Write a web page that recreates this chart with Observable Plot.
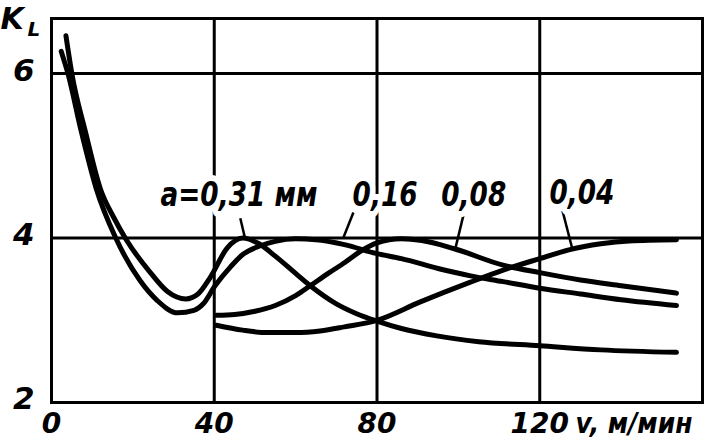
<!DOCTYPE html>
<html><head><meta charset="utf-8">
<script src="https://cdn.jsdelivr.net/npm/d3@7"></script>
<script src="https://cdn.jsdelivr.net/npm/@observablehq/plot@0.6"></script>
<style>body{margin:0;background:#fff}</style>
</head><body><div id="chart"></div>
<script>
// feed thickness a, mm
const series = ["0,31", "0,16", "0,08", "0,04"];
// cutting speed v, m/min  and  coefficient K_L
const v031 = [3.55, 5.0, 8.3, 12.0, 15.3, 18.5, 24.3, 28.5, 33, 36, 39, 43.2, 47, 51, 55, 60, 63.6, 70, 75, 80, 86, 94.7, 105, 120, 135, 153.6];
const k031 = [6.46, 6.0, 5.3, 4.6, 4.25, 3.97, 3.58, 3.35, 3.26, 3.32, 3.52, 3.88, 4.0, 3.93, 3.78, 3.57, 3.42, 3.2, 3.08, 2.99, 2.9, 2.81, 2.74, 2.69, 2.64, 2.61];
const v016 = [2.4, 4.05, 7.3, 11.0, 15.8, 21.8, 26, 31, 35, 37.3, 40.2, 44, 47, 51, 55, 60, 65, 72, 80, 86, 95, 103, 111, 120, 130, 140, 153.6];
const k016 = [6.27, 6.0, 5.3, 4.6, 4.0, 3.48, 3.24, 3.09, 3.12, 3.2, 3.42, 3.65, 3.8, 3.9, 3.96, 3.99, 3.98, 3.92, 3.81, 3.75, 3.63, 3.54, 3.47, 3.39, 3.32, 3.25, 3.18];
const v008 = [40.5, 45, 50, 55, 60, 63.6, 68, 72, 76, 80, 86, 91, 99, 111, 120, 130, 140, 153.6];
const k008 = [3.06, 3.07, 3.11, 3.18, 3.3, 3.42, 3.57, 3.7, 3.84, 3.94, 3.99, 3.97, 3.87, 3.67, 3.58, 3.49, 3.42, 3.33];
const v004 = [40.5, 47, 53, 60, 66, 72, 80, 90.5, 102.8, 111, 120, 127.4, 135, 142, 153.6];
const k004 = [2.94, 2.88, 2.85, 2.85, 2.87, 2.92, 3.0, 3.22, 3.46, 3.61, 3.75, 3.86, 3.93, 3.965, 3.98];

const xTicks = [0, 40, 80, 120];
const xTickLabels = ["0", "40", "80", "120"];
const xTitle = "v, м/мин";
const yTicks = [2, 4, 6];
const yTickLabels = ["2", "4", "6"];
const gridX = [40, 80, 120];
const gridY = [4, 6];

const labelText = ["a=0,31 мм", "0,16", "0,08", "0,04"];
const labelV = [26.8, 74.0, 95.8, 122.4];
const labelK = [4.39, 4.39, 4.39, 4.41];
const leaderV1 = [46.4, 74.2, 101.2, 125.6];
const leaderK1 = [4.24, 4.31, 4.27, 4.33];
const leaderV2 = [47.6, 71.7, 99.3, 128.0];
const leaderK2 = [3.99, 4.0, 3.88, 3.87];

const curves = [[v031, k031], [v016, k016], [v008, k008], [v004, k004]]
  .flatMap(([vs, ks], i) => vs.map((v, j) => ({a: series[i], v, k: ks[j]})));
const labels = labelText.map((text, i) => ({text, v: labelV[i], k: labelK[i]}));
const leaders = labelText.map((t, i) => ({v1: leaderV1[i], k1: leaderK1[i], v2: leaderV2[i], k2: leaderK2[i]}));

const FONT = "'DejaVu Sans', sans-serif";
const NARROW = "'Liberation Sans Narrow', 'DejaVu Sans Condensed', 'DejaVu Sans', sans-serif";

const chart = Plot.plot({
  width: 708, height: 446,
  marginLeft: 51, marginRight: 6, marginTop: 18, marginBottom: 44,
  x: {domain: [0, 160], axis: null},
  y: {domain: [2, 6.67], axis: null},
  style: {background: "white", fontFamily: FONT, color: "black"},
  marks: [
    Plot.ruleX(gridX, {stroke: "black", strokeWidth: 3}),
    Plot.ruleY(gridY, {stroke: "black", strokeWidth: 3}),
    Plot.frame({stroke: "black", strokeWidth: 3}),
    Plot.line(curves, {x: "v", y: "k", z: "a", curve: "monotone-x", stroke: "black", strokeWidth: 5, strokeLinecap: "round", strokeLinejoin: "round"}),
    Plot.link(leaders, {x1: "v1", y1: "k1", x2: "v2", y2: "k2", stroke: "black", strokeWidth: 2.5}),
    Plot.text(labels, {x: "v", y: "k", text: "text", className: "narrow-088", textAnchor: "start", lineAnchor: "bottom", fontFamily: NARROW, fontSize: 34, fontStyle: "italic", fontWeight: "bold", fill: "black", stroke: "white", strokeWidth: 12}),
    Plot.text(xTicks, {x: d => d, text: (d, i) => xTickLabels[i], frameAnchor: "bottom", lineAnchor: "top", dy: 11, fontSize: 28, fontStyle: "italic", fontWeight: "bold"}),
    Plot.text([xTitle], {className: "narrow-092", frameAnchor: "bottom-right", textAnchor: "start", lineAnchor: "top", dy: 11, dx: -127, fontSize: 28, fontStyle: "italic", fontWeight: "bold"}),
    Plot.text(yTicks, {y: d => d, text: (d, i) => yTickLabels[i], frameAnchor: "left", textAnchor: "end", lineAnchor: "middle", dx: -17, dy: -3, fontSize: 31, fontStyle: "italic", fontWeight: "bold"}),
    Plot.text(["K"], {frameAnchor: "top-left", textAnchor: "start", lineAnchor: "bottom", dx: -51, dy: 10, fontSize: 30, fontStyle: "italic", fontWeight: "bold"}),
    Plot.text(["L"], {frameAnchor: "top-left", textAnchor: "start", lineAnchor: "bottom", dx: -24, dy: 17, fontSize: 20, fontStyle: "italic", fontWeight: "bold"})
  ]
});
document.getElementById("chart").appendChild(chart);

// condense lettering to resemble the narrow drafting font of the original
for (const [cls, f] of [["narrow-088", 0.86], ["narrow-092", 0.89]]) {
  chart.querySelectorAll(`g.${cls} text`).forEach(el => {
    const w = el.getComputedTextLength();
    el.setAttribute("textLength", (w * f).toFixed(1));
    el.setAttribute("lengthAdjust", "spacingAndGlyphs");
  });
}
</script>
</body></html>
